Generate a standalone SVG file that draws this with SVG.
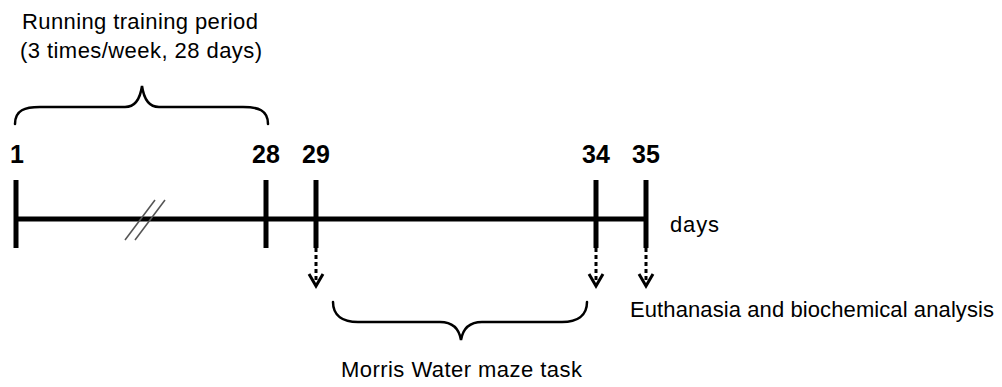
<svg xmlns="http://www.w3.org/2000/svg" width="1002" height="387" viewBox="0 0 1002 387">
  <style>
    .lbl { font-family: "Liberation Sans", Arial, sans-serif; font-size: 22px; fill: #000; }
    .num { font-family: "Liberation Sans", Arial, sans-serif; font-size: 25px; font-weight: bold; fill: #000; text-anchor: middle; }
    .axis { stroke: #000; stroke-width: 5; fill: none; }
    .brace { stroke: #000; stroke-width: 2.5; fill: none; stroke-linecap: round; }
    .dots { stroke: #000; stroke-width: 3; stroke-dasharray: 4 3; fill: none; }
    .head { stroke: #000; stroke-width: 3; fill: none; }
    .slash { stroke: #555; stroke-width: 1.5; }
  </style>
  <rect width="1002" height="387" fill="#fff"/>

  <!-- timeline axis and day ticks -->
  <g id="timeline">
    <line class="axis" x1="16" y1="219" x2="646" y2="219"/>
    <line class="slash" x1="125" y1="240" x2="155" y2="200"/>
    <line class="slash" x1="135" y1="240" x2="165" y2="200"/>
  </g>
  <g id="day1"><line class="axis" x1="16" y1="180" x2="16" y2="248"/><text class="num" x="17" y="163">1</text></g>
  <g id="day28"><line class="axis" x1="266" y1="180" x2="266" y2="248"/><text class="num" x="266" y="163">28</text></g>
  <g id="day29"><line class="axis" x1="316" y1="180" x2="316" y2="248"/><text class="num" x="316" y="163">29</text></g>
  <g id="day34"><line class="axis" x1="596" y1="180" x2="596" y2="248"/><text class="num" x="596" y="163">34</text></g>
  <g id="day35"><line class="axis" x1="646" y1="180" x2="646" y2="248"/><text class="num" x="646" y="163">35</text></g>
  <g id="unit"><text class="lbl" x="670" y="232" textLength="49">days</text></g>

  <!-- training period brace -->
  <g id="training">
    <text class="lbl" x="22" y="29" textLength="236">Running training period</text>
    <text class="lbl" x="20" y="58" textLength="242">(3 times/week, 28 days)</text>
    <path class="brace" d="M15,124 C15,110 25,107 40,107 L125,107 C135,107 140,100 142,86 C144,100 149,107 159,107 L243,107 C258,107 268,110 268,124"/>
  </g>

  <!-- maze task brace -->
  <g id="maze">
    <path class="brace" d="M333,302 C333,316 343,322 358,322 L440,322 C452,322 459,328 461,340 C463,328 470,322 482,322 L562,322 C577,322 587,316 587,302"/>
    <text class="lbl" x="341" y="377" textLength="241">Morris Water maze task</text>
  </g>

  <g id="euthanasia">
    <text class="lbl" x="630" y="317" textLength="364">Euthanasia and biochemical analysis</text>
  </g>

  <!-- dotted arrows from days 29, 34, 35 -->
  <g id="connectors">
    <line class="dots" x1="316" y1="248" x2="316" y2="283"/>
    <polyline class="head" points="309,274 316,286 323,274"/>
    <line class="dots" x1="596" y1="248" x2="596" y2="283"/>
    <polyline class="head" points="589,274 596,286 603,274"/>
    <line class="dots" x1="646" y1="248" x2="646" y2="283"/>
    <polyline class="head" points="639,274 646,286 653,274"/>
  </g>
</svg>
